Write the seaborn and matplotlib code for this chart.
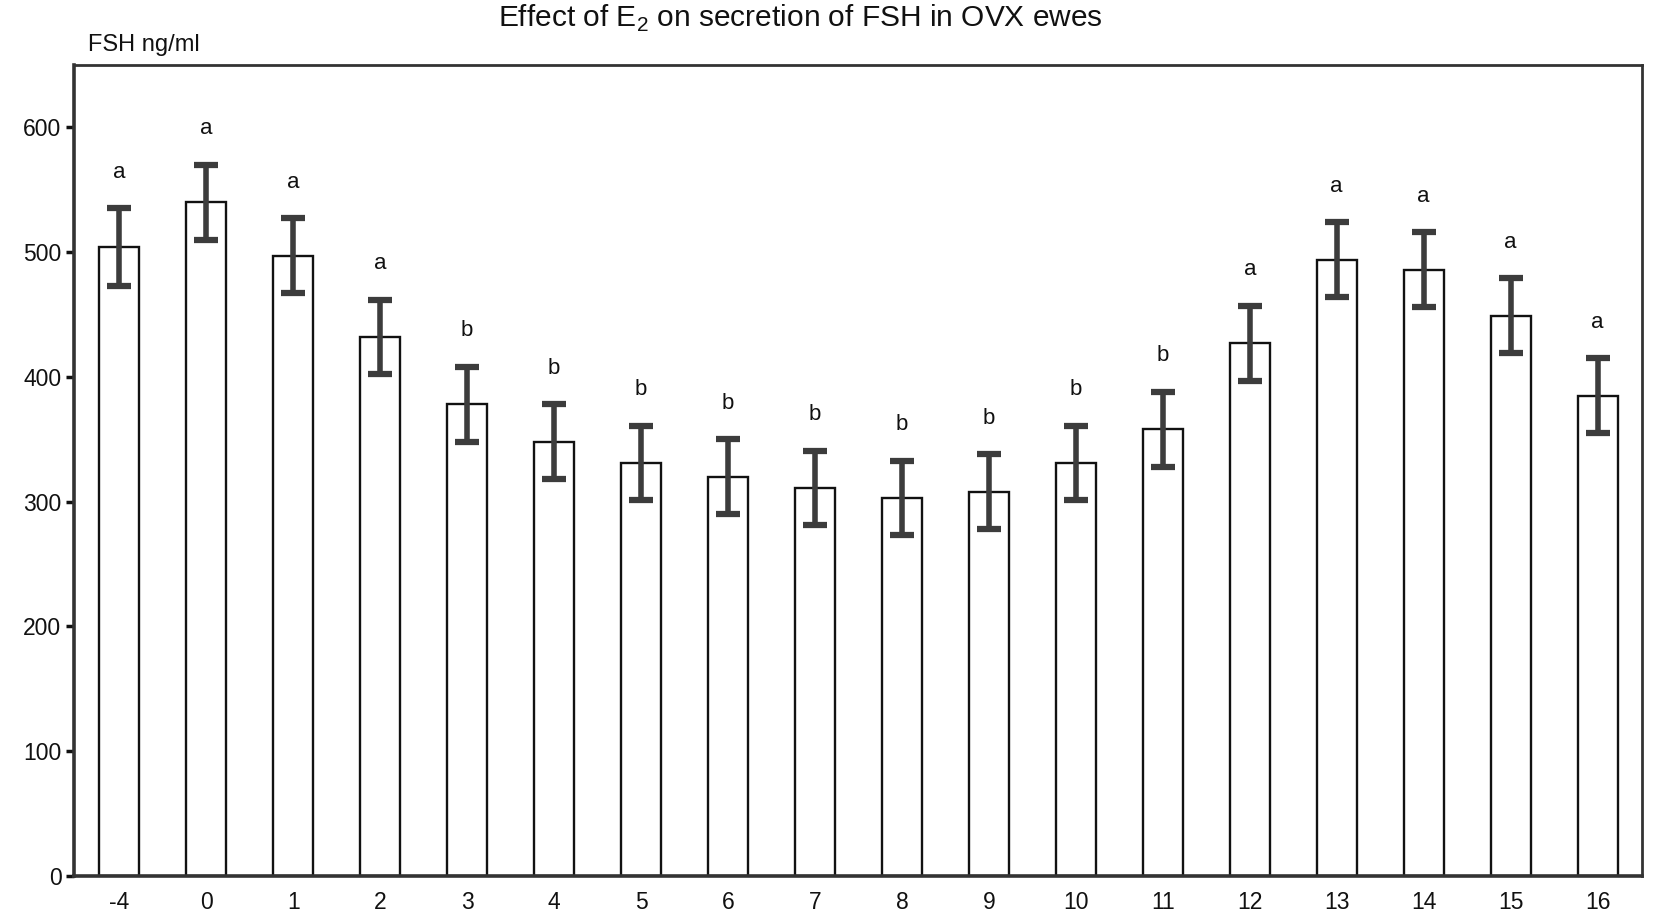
import matplotlib
matplotlib.use("Agg")
import matplotlib.pyplot as plt
import seaborn as sns
import pandas as pd
import numpy as np

days = ["-4", "0", "1", "2", "3", "4", "5", "6", "7", "8", "9", "10", "11", "12", "13", "14", "15", "16"]
fsh_mean = [504, 540, 497, 432, 378, 348, 331, 320, 311, 303, 308, 331, 358, 427, 494, 486, 449, 385]
fsh_sem = [31, 30, 30, 30, 30, 30, 30, 30, 30, 30, 30, 30, 30, 30, 30, 30, 30, 30]
letters = ["a", "a", "a", "a", "b", "b", "b", "b", "b", "b", "b", "b", "b", "a", "a", "a", "a", "a"]

sns.set_theme(style="white")
plt.rcParams["font.family"] = ["Liberation Sans", "DejaVu Sans"]
plt.rcParams["mathtext.fontset"] = "custom"
plt.rcParams["mathtext.rm"] = "Liberation Sans"

df = pd.DataFrame({"day": days, "fsh": fsh_mean})

W, H = 1654, 922
fig = plt.figure(figsize=(W / 100, H / 100), dpi=100)
left, right, top, bottom = 74, 1642, 65, 876
ax = fig.add_axes([left / W, 1 - bottom / H, (right - left) / W, (bottom - top) / H])

sns.barplot(data=df, x="day", y="fsh", order=days, color="white", edgecolor="#111111",
            linewidth=1.7, width=0.46, errorbar=None, ax=ax)

centers = [p.get_x() + p.get_width() / 2 for p in ax.patches[:len(days)]]
ax.errorbar(centers, fsh_mean, yerr=fsh_sem, fmt="none", ecolor="#3c3c3c",
            elinewidth=4, capsize=8.5, capthick=4.5, zorder=5)

for x, m, e, lab in zip(centers, fsh_mean, fsh_sem, letters):
    ax.annotate(lab, (x, m + e), xytext=(0, 26), textcoords="offset points",
                ha="center", va="center", fontsize=16, color="#111111")

ax.set_ylim(0, 650)
ax.set_xlim(-0.52, len(days) - 0.49)
ax.set_yticks([0, 100, 200, 300, 400, 500, 600])
ax.tick_params(axis="y", which="both", left=True, length=6, width=2.5, direction="out",
               labelsize=16.5, colors="#111111", pad=3)
ax.tick_params(axis="x", bottom=False, length=0, labelsize=16.5, colors="#111111", pad=11)
ax.set_xlabel("")
ax.set_ylabel("")
for side in ["left", "bottom"]:
    ax.spines[side].set_linewidth(2.6)
    ax.spines[side].set_color("#333333")
for side in ["top", "right"]:
    ax.spines[side].set_linewidth(2.0)
    ax.spines[side].set_color("#333333")
    ax.spines[side].set_visible(True)

fig.text(88 / W, 1 - 51 / H, "FSH ng/ml", fontsize=17, ha="left", va="baseline", color="#111111")
fig.text(800 / W, 1 - 27 / H, "Effect of E$_2$ on secretion of FSH in OVX ewes",
         fontsize=21.5, ha="center", va="baseline", color="#111111")

fig.savefig("out.png", dpi=100, facecolor="white")
